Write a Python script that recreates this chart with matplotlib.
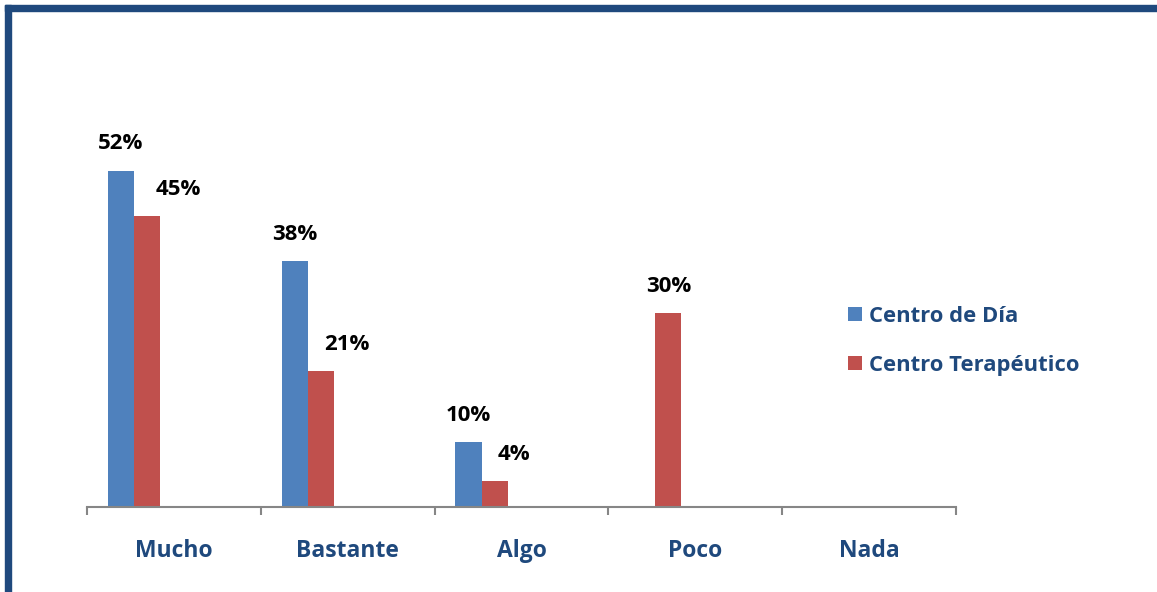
import numpy as np
import matplotlib.pyplot as plt
from matplotlib.patches import Rectangle

# ====== 数据 ======
categories = ["Mucho", "Bastante", "Algo", "Poco", "Nada"]
series_names = ["Centro de Día", "Centro Terapéutico"]
centro_dia = [52, 38, 10, 0, 0]
centro_terap = [45, 21, 4, 30, 0]

BLUE = "#4F81BD"
RED = "#C0504D"
NAVY = "#1F497D"
AXIS_GRAY = "#868686"

plt.rcParams['font.family'] = ['Open Sans', 'DejaVu Sans']

W, H = 1157, 592
fig = plt.figure(figsize=(W / 100, H / 100), dpi=100)

# 边框（上、左）
fig.patches.append(Rectangle((5 / W, 1 - 11 / H), 1 - 5 / W, 6 / H,
                             transform=fig.transFigure, color=NAVY, zorder=0))
fig.patches.append(Rectangle((5 / W, 0), 6 / W, 1 - 5 / H,
                             transform=fig.transFigure, color=NAVY, zorder=0))

ax = fig.add_axes([87 / W, 85 / H, 869 / W, 388 / H])

n = len(categories)
x = np.arange(n)
bw = 0.15
off = 0.12 - 0.5  # 每组在类别内的起点

b1 = ax.bar(x + off, centro_dia, width=bw, align="edge", color=BLUE, label=series_names[0])
b2 = ax.bar(x + off + bw, centro_terap, width=bw, align="edge", color=RED, label=series_names[1])

# 标签水平偏移（像素），红色标签在 Excel 里向右挪开了
shift_red = [31, 26, 19, 0, 0]
for bars, vals, shifts in ((b1, centro_dia, [0] * n), (b2, centro_terap, shift_red)):
    for rect, v, s in zip(bars, vals, shifts):
        if v == 0:
            continue
        ax.annotate(f"{v}%", (rect.get_x() + rect.get_width() / 2, v),
                    xytext=(s * 0.72, 27 * 0.72), textcoords="offset points",
                    ha="center", va="center",
                    fontsize=16, fontweight="bold", color="black")

ax.set_xlim(-0.5, n - 0.5)
ax.set_ylim(0, 60)
ax.set_yticks([])
for s in ("top", "right", "left"):
    ax.spines[s].set_visible(False)
ax.spines["bottom"].set_color(AXIS_GRAY)
ax.spines["bottom"].set_linewidth(1.5)

ax.set_xticks(np.arange(n + 1) - 0.5)
ax.set_xticklabels([])
ax.tick_params(axis="x", direction="out", length=6, width=1.5, color=AXIS_GRAY)
ax.set_xticks(x, minor=True)
ax.set_xticklabels(categories, minor=True, fontsize=16.5, fontweight="bold", color=NAVY)
ax.tick_params(axis="x", which="minor", length=0, pad=23)

leg = ax.legend(loc="center left", frameon=False,
                fontsize=15.8, handlelength=0.62, handleheight=0.62, handletextpad=0.35,
                labelspacing=1.27, borderaxespad=0, borderpad=0)
for t in leg.get_texts():
    t.set_color(NAVY)
    t.set_fontweight("bold")
leg.set_bbox_to_anchor((848 / W, 1 - 341 / H), transform=fig.transFigure)

fig.savefig("out.png", dpi=100)
